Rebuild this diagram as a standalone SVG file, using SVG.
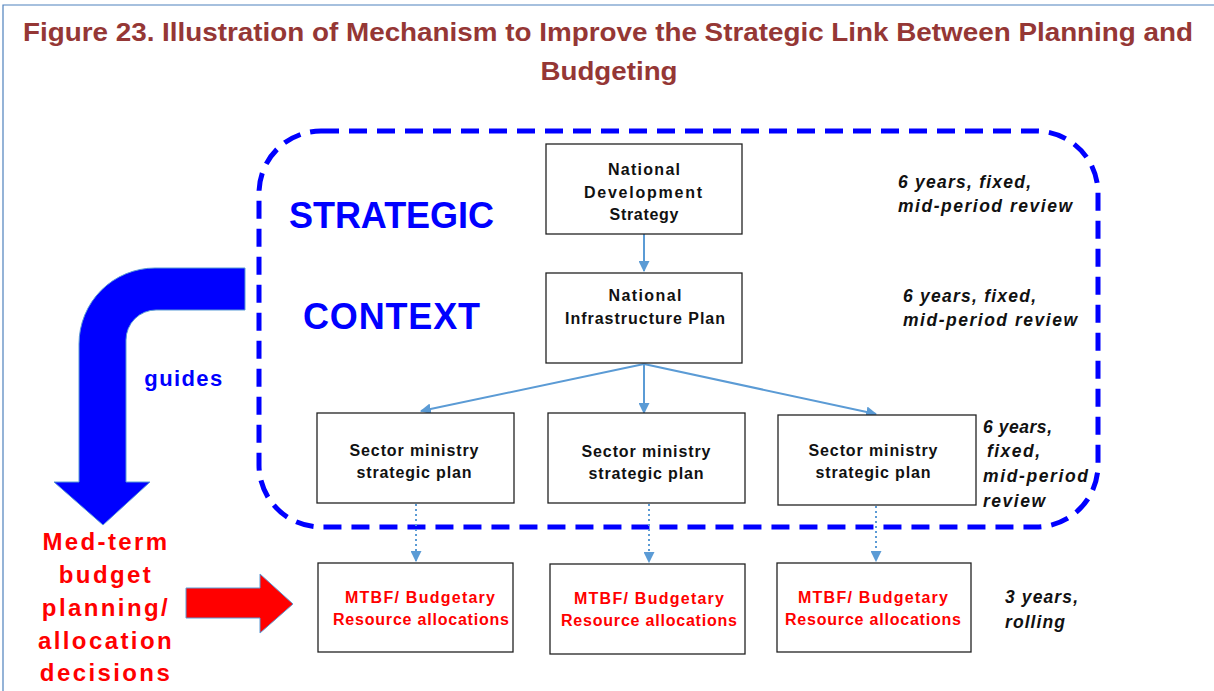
<svg xmlns="http://www.w3.org/2000/svg" width="1214" height="691" viewBox="0 0 1214 691">
<defs>
<style>
.box{fill:#fff;stroke:#222;stroke-width:1.3}
.bt{font-family:"Liberation Sans",Arial,sans-serif;font-weight:bold;font-size:16px;fill:#111;text-anchor:middle}
.rt{font-family:"Liberation Sans",Arial,sans-serif;font-weight:bold;font-size:16px;fill:#ff0000;text-anchor:middle}
.it{font-family:"Liberation Sans",Arial,sans-serif;font-weight:bold;font-style:italic;font-size:17.5px;fill:#111}
.big{font-family:"Liberation Sans",Arial,sans-serif;font-weight:bold;font-size:36px;fill:#0000ff}
.red{font-family:"Liberation Sans",Arial,sans-serif;font-weight:bold;font-size:24px;letter-spacing:2.4px;fill:#ff0000;text-anchor:middle}
.conn{stroke:#5b9bd5;stroke-width:2;fill:none}
.dot{stroke:#5b9bd5;stroke-width:2;fill:none;stroke-dasharray:2 3}
</style>
<marker id="ah" viewBox="0 0 10 10" refX="9" refY="5" markerWidth="5.5" markerHeight="5.5" orient="auto" markerUnits="strokeWidth">
<path d="M0,0 L10,5 L0,10 z" fill="#5b9bd5"/>
</marker>
</defs>
<rect x="0" y="0" width="1214" height="691" fill="#fff"/>
<path d="M3,691 L3,5 L1214,5" fill="none" stroke="#4f81bd" stroke-width="1.2"/>

<g id="title">
<text x="608" y="41" text-anchor="middle" font-family="'Liberation Sans',Arial,sans-serif" font-weight="bold" font-size="26" fill="#953735" textLength="1170" lengthAdjust="spacingAndGlyphs">Figure 23. Illustration of Mechanism to Improve the Strategic Link Between Planning and</text>
<text x="609" y="80" text-anchor="middle" font-family="'Liberation Sans',Arial,sans-serif" font-weight="bold" font-size="26" fill="#953735" textLength="137" lengthAdjust="spacingAndGlyphs">Budgeting</text>
</g>

<g id="context-frame">
<rect x="259" y="131" width="839" height="396" rx="62" ry="62" fill="none" stroke="#0000ff" stroke-width="5" stroke-dasharray="18 10"/>
<text class="big" x="289" y="228" textLength="205">STRATEGIC</text>
<text class="big" x="303" y="329" textLength="177">CONTEXT</text>
</g>

<g id="guides-arrow">
<path d="M245,268 L155,268 A76,76 0 0 0 79,344 L79,482 L54,482 L103,525 L150,482 L126,482 L126,340 A30,30 0 0 1 156,310 L245,310 Z" fill="#0000ff" stroke="#5b9bd5" stroke-width="1"/>
<text x="184" y="386" text-anchor="middle" font-family="'Liberation Sans',Arial,sans-serif" font-weight="bold" font-size="22" letter-spacing="1.4" fill="#0000ff">guides</text>
</g>

<g id="budget-label">
<text class="red" x="106" y="550">Med-term</text>
<text class="red" x="106" y="583">budget</text>
<text class="red" x="106" y="616">planning/</text>
<text class="red" x="106" y="649">allocation</text>
<text class="red" x="106" y="681">decisions</text>
<path d="M186,588 L260,588 L260,574 L293,604 L260,633 L260,618 L186,618 Z" fill="#ff0000" stroke="#5b9bd5" stroke-width="1"/>
</g>

<g id="connectors">
<line class="conn" x1="644" y1="234" x2="644" y2="271" marker-end="url(#ah)"/>
<line class="conn" x1="644" y1="364" x2="421" y2="411" marker-end="url(#ah)"/>
<line class="conn" x1="644" y1="364" x2="644" y2="413" marker-end="url(#ah)"/>
<line class="conn" x1="644" y1="364" x2="876" y2="414" marker-end="url(#ah)"/>
<line class="dot" x1="416" y1="504" x2="416" y2="561" marker-end="url(#ah)"/>
<line class="dot" x1="649" y1="504" x2="649" y2="562" marker-end="url(#ah)"/>
<line class="dot" x1="876" y1="506" x2="876" y2="561" marker-end="url(#ah)"/>
</g>

<g id="nds">
<rect class="box" x="546" y="144" width="196" height="90"/>
<text class="bt" x="644" y="175" textLength="72">National</text>
<text class="bt" x="643" y="198" textLength="118">Development</text>
<text class="bt" x="644" y="220" textLength="69">Strategy</text>
</g>
<g id="nip">
<rect class="box" x="546" y="273" width="196" height="90"/>
<text class="bt" x="645" y="301" textLength="73">National</text>
<text class="bt" x="645" y="324" textLength="160">Infrastructure Plan</text>
</g>

<g id="sector1">
<rect class="box" x="317" y="413" width="197" height="90"/>
<text class="bt" x="414" y="456" textLength="129">Sector ministry</text>
<text class="bt" x="414" y="478" textLength="115">strategic plan</text>
</g>
<g id="sector2">
<rect class="box" x="548" y="413" width="197" height="90"/>
<text class="bt" x="646" y="457" textLength="129">Sector ministry</text>
<text class="bt" x="646" y="479" textLength="115">strategic plan</text>
</g>
<g id="sector3">
<rect class="box" x="778" y="415" width="198" height="90"/>
<text class="bt" x="873" y="456" textLength="129">Sector ministry</text>
<text class="bt" x="873" y="478" textLength="115">strategic plan</text>
</g>

<g id="mtbf1">
<rect class="box" x="318" y="563" width="195" height="89"/>
<text class="rt" x="420" y="603" textLength="150">MTBF/ Budgetary</text>
<text class="rt" x="421" y="625" textLength="176">Resource allocations</text>
</g>
<g id="mtbf2">
<rect class="box" x="550" y="564" width="195" height="90"/>
<text class="rt" x="649" y="604" textLength="150">MTBF/ Budgetary</text>
<text class="rt" x="649" y="626" textLength="176">Resource allocations</text>
</g>
<g id="mtbf3">
<rect class="box" x="777" y="563" width="194" height="89"/>
<text class="rt" x="873" y="603" textLength="150">MTBF/ Budgetary</text>
<text class="rt" x="873" y="625" textLength="176">Resource allocations</text>
</g>

<g id="timing-labels">
<text class="it" x="898" y="188" textLength="133">6 years, fixed,</text>
<text class="it" x="898" y="212" textLength="174">mid-period review</text>
<text class="it" x="903" y="302" textLength="133">6 years, fixed,</text>
<text class="it" x="903" y="326" textLength="174">mid-period review</text>
<text class="it" x="983" y="433" textLength="69">6 years,</text>
<text class="it" x="987" y="457" textLength="53">fixed,</text>
<text class="it" x="983" y="482" textLength="105">mid-period</text>
<text class="it" x="983" y="507" textLength="62">review</text>
<text class="it" x="1005" y="603" textLength="73">3 years,</text>
<text class="it" x="1005" y="628" textLength="60">rolling</text>
</g>
</svg>
